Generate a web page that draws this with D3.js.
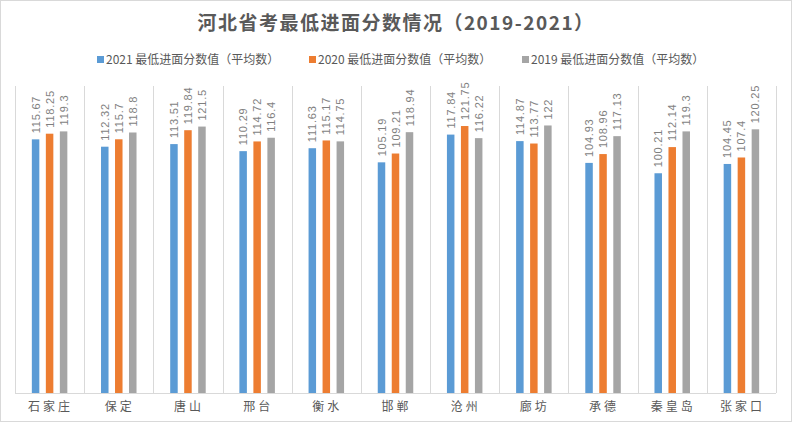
<!DOCTYPE html>
<html>
<head>
    <meta charset="utf-8">
    <title>河北省考最低进面分数情况</title>
    <script src="https://d3js.org/d3.v7.min.js"></script>
    <style>
        body { margin: 0; background-color: #ffffff; }
        svg { display: block; font-family: "Noto Sans CJK SC", "Liberation Sans", sans-serif; }
    </style>
</head>
<body>
    <script>
        // Data
        const cities = ["石家庄", "保定", "唐山", "邢台", "衡水", "邯郸", "沧州", "廊坊", "承德", "秦皇岛", "张家口"];
        const years = ["2021", "2020", "2019"];
        const scores2021 = [115.67, 112.32, 113.51, 110.29, 111.63, 105.19, 117.84, 114.87, 104.93, 100.21, 104.45];
        const scores2020 = [118.25, 115.7, 119.84, 114.72, 115.17, 109.21, 121.75, 113.77, 108.96, 112.14, 107.4];
        const scores2019 = [119.3, 118.8, 121.5, 116.4, 114.75, 118.94, 116.22, 122, 117.13, 119.3, 120.25];
        const seriesColors = ["#5b9bd5", "#ed7d31", "#a5a5a5"];

        const seriesValues = [scores2021, scores2020, scores2019];
        const data = cities.map((c, i) => ({
            city: c,
            values: years.map((y, k) => ({ year: y, k: k, value: seriesValues[k][i] }))
        }));

        const W = 792, H = 424;
        const margin = {top: 86, right: 16, bottom: 31, left: 15};
        const width = W - margin.left - margin.right,
              height = H - margin.top - margin.bottom;

        const svg = d3.select("body").append("svg")
            .attr("width", W)
            .attr("height", H);

        // outer border
        svg.append("rect")
            .attr("x", 0.5).attr("y", 0.5)
            .attr("width", W - 1).attr("height", H - 3)
            .attr("fill", "#fff")
            .attr("stroke", "#d9d9d9");

        // title
        svg.append("text")
            .attr("x", W / 2)
            .attr("y", 30)
            .attr("text-anchor", "middle")
            .style("font-size", "19px")
            .style("font-weight", "bold")
            .style("letter-spacing", "1.5px")
            .style("fill", "#595959")
            .text("河北省考最低进面分数情况（2019-2021）");

        // legend
        const legendX = [97, 309, 522];
        const legend = svg.selectAll(".legend")
            .data(years)
            .enter().append("g")
            .attr("class", "legend")
            .attr("transform", (d, i) => "translate(" + legendX[i] + ",60)");
        legend.append("rect")
            .attr("x", 0).attr("y", -4)
            .attr("width", 7).attr("height", 7)
            .attr("fill", (d, i) => seriesColors[i]);
        legend.append("text")
            .attr("x", 9).attr("y", 4)
            .style("font-size", "12px")
            .style("fill", "#595959")
            .text(d => d + " 最低进面分数值（平均数）");

        const g = svg.append("g")
            .attr("transform", "translate(" + margin.left + "," + margin.top + ")");

        const x = d3.scaleBand().domain(cities).range([0, width]);
        const x1 = d3.scaleBand().domain(d3.range(3)).range([17, x.bandwidth() - 16]).paddingInner(0.9).paddingOuter(0);
        const y = d3.scaleLinear().domain([0, 140]).range([height, 0]);

        // category separators
        g.selectAll(".sep")
            .data(d3.range(cities.length + 1))
            .enter().append("line")
            .attr("x1", i => Math.round(i * x.step()) + 0.5)
            .attr("x2", i => Math.round(i * x.step()) + 0.5)
            .attr("y1", 0).attr("y2", height)
            .attr("stroke", "#d9d9d9");

        const bw = 7.5, gap = 14;
        const groups = g.selectAll(".city")
            .data(data)
            .enter().append("g")
            .attr("class", "city")
            .attr("transform", d => "translate(" + (x(d.city) + x.bandwidth() / 2) + ",0)");

        groups.selectAll("rect")
            .data(d => d.values)
            .enter().append("rect")
            .attr("x", d => (d.k - 1) * gap - bw / 2)
            .attr("y", d => y(d.value))
            .attr("width", bw)
            .attr("height", d => height - y(d.value))
            .attr("fill", d => seriesColors[d.k]);

        groups.selectAll(".lbl")
            .data(d => d.values)
            .enter().append("text")
            .attr("class", "lbl")
            .attr("transform", d => "translate(" + ((d.k - 1) * gap + 4) + "," + (y(d.value) - 6) + ") rotate(-90)")
            .style("font-size", "11px")
            .style("font-family", "'Liberation Sans', sans-serif")
            .style("letter-spacing", "0.8px")
            .style("fill", "#7f7f7f")
            .text(d => d.value);

        // x axis
        g.append("line")
            .attr("x1", 0).attr("x2", width)
            .attr("y1", height + 0.5).attr("y2", height + 0.5)
            .attr("stroke", "#d9d9d9");

        g.selectAll(".xlab")
            .data(cities)
            .enter().append("text")
            .attr("class", "xlab")
            .attr("x", d => x(d) + x.bandwidth() / 2 + 1)
            .attr("y", height + 18)
            .attr("text-anchor", "middle")
            .style("font-size", "12px")
            .style("letter-spacing", "3px")
            .style("fill", "#595959")
            .text(d => d);
    </script>
</body>
</html>
